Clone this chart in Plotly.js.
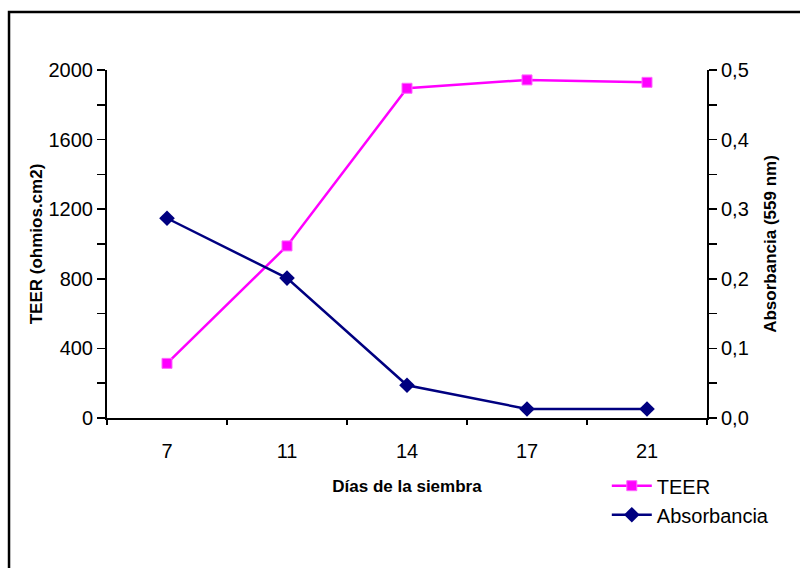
<!DOCTYPE html>
<html>
<head>
<meta charset="utf-8">
<script src="https://cdn.plot.ly/plotly-3.0.1.min.js"></script>
<style>html,body{margin:0;padding:0;background:#fff;}#chart{width:800px;height:568px;}</style>
</head>
<body>
<div id="chart"></div>
<script>
const days = ['7', '11', '14', '17', '21'];
const teer = [314, 989, 1895, 1943, 1929];
const absorbancia = [0.287, 0.201, 0.047, 0.013, 0.013];
const boundaryTicks = [-0.5, 0.5, 1.5, 2.5, 3.5, 4.5];
const teerTicks = [0, 400, 800, 1200, 1600, 2000];
const absTicks = [0, 0.1, 0.2, 0.3, 0.4, 0.5];

const FONT = 'Arial, "Liberation Sans", sans-serif';

const traces = [
  {
    x: days, y: teer, name: 'TEER', type: 'scatter', mode: 'lines+markers',
    xaxis: 'x', yaxis: 'y',
    line: {color: '#FF00FF', width: 2.5},
    marker: {symbol: 'square', size: 10, color: '#FF00FF', line: {color: '#FF66FF', width: 1}}
  },
  {
    x: days, y: absorbancia, name: 'Absorbancia', type: 'scatter', mode: 'lines+markers',
    xaxis: 'x', yaxis: 'y2',
    line: {color: '#000080', width: 2.5},
    marker: {symbol: 'diamond', size: 12, color: '#000080'}
  }
];

const axisCommon = {
  showgrid: false, zeroline: false, linecolor: '#000', tickcolor: '#000',
  tickfont: {family: FONT, size: 20, color: '#000'}
};

const layout = {
  width: 800, height: 568,
  margin: {l: 107, r: 93, t: 70, b: 150},
  paper_bgcolor: '#fff', plot_bgcolor: '#fff',
  separators: ',.',
  showlegend: true,
  legend: {
    x: 0.833, y: -0.1385, xanchor: 'left', yanchor: 'top',
    font: {family: FONT, size: 20, color: '#000'},
    bgcolor: 'rgba(0,0,0,0)', tracegroupgap: 0, itemwidth: 40
  },
  xaxis: Object.assign({}, axisCommon, {
    type: 'category', categoryorder: 'array', categoryarray: days,
    range: [-0.5, 4.5], showline: true, linewidth: 2,
    ticks: 'outside', tickson: 'boundaries', ticklen: 5, tickwidth: 1.5,
    ticklabelstandoff: 14,
    title: {text: 'Días de la siembra', font: {family: FONT, size: 17, color: '#000', weight: 'bold'}, standoff: 19}
  }),
  xaxis2: {
    overlaying: 'x', anchor: 'y', side: 'bottom', type: 'linear',
    range: [-0.5, 4.5], tickmode: 'array', tickvals: boundaryTicks,
    ticks: 'inside', ticklen: 6, tickwidth: 1.5, tickcolor: '#000',
    showticklabels: false, showline: false, showgrid: false, zeroline: false
  },
  yaxis: Object.assign({}, axisCommon, {
    range: [0, 2000], tickmode: 'array', tickvals: teerTicks,
    showline: true, linewidth: 2,
    ticks: 'outside', ticklen: 8, tickwidth: 1.5,
    minor: {dtick: 200, ticks: 'outside', ticklen: 8, tickwidth: 1.5, tickcolor: '#000', showgrid: false},
    title: {text: 'TEER (ohmios.cm2)', font: {family: FONT, size: 17, color: '#000', weight: 'bold'}, standoff: 2}
  }),
  yaxis3: {
    overlaying: 'y', anchor: 'x', side: 'left', range: [0, 2000],
    tickmode: 'array', tickvals: teerTicks,
    ticks: 'inside', ticklen: 7, tickwidth: 1.5, tickcolor: '#000',
    showticklabels: false, showline: false, showgrid: false, zeroline: false
  },
  yaxis2: Object.assign({}, axisCommon, {
    overlaying: 'y', anchor: 'x', side: 'right', range: [0, 0.5],
    tickmode: 'array', tickvals: absTicks, tickformat: '.1f',
    showline: true, linewidth: 2,
    ticks: 'outside', ticklen: 8, tickwidth: 1.5,
    minor: {dtick: 0.05, ticks: 'outside', ticklen: 8, tickwidth: 1.5, tickcolor: '#000', showgrid: false},
    title: {text: 'Absorbancia (559 nm)', font: {family: FONT, size: 17, color: '#000', weight: 'bold'}, standoff: 16}
  }),
  yaxis4: {
    overlaying: 'y', anchor: 'x', side: 'right', range: [0, 0.5],
    tickmode: 'array', tickvals: absTicks,
    ticks: 'inside', ticklen: 7, tickwidth: 1.5, tickcolor: '#000',
    showticklabels: false, showline: false, showgrid: false, zeroline: false
  },
  shapes: [
    {type: 'rect', xref: 'paper', yref: 'paper',
     x0: -0.1633, x1: 1.16, y0: -0.45, y1: 1.1667,
     line: {color: '#000', width: 2.5}, fillcolor: 'rgba(0,0,0,0)', layer: 'above'}
  ]
};

Plotly.newPlot('chart', traces, layout, {displayModeBar: false, staticPlot: true});
</script>
</body>
</html>
